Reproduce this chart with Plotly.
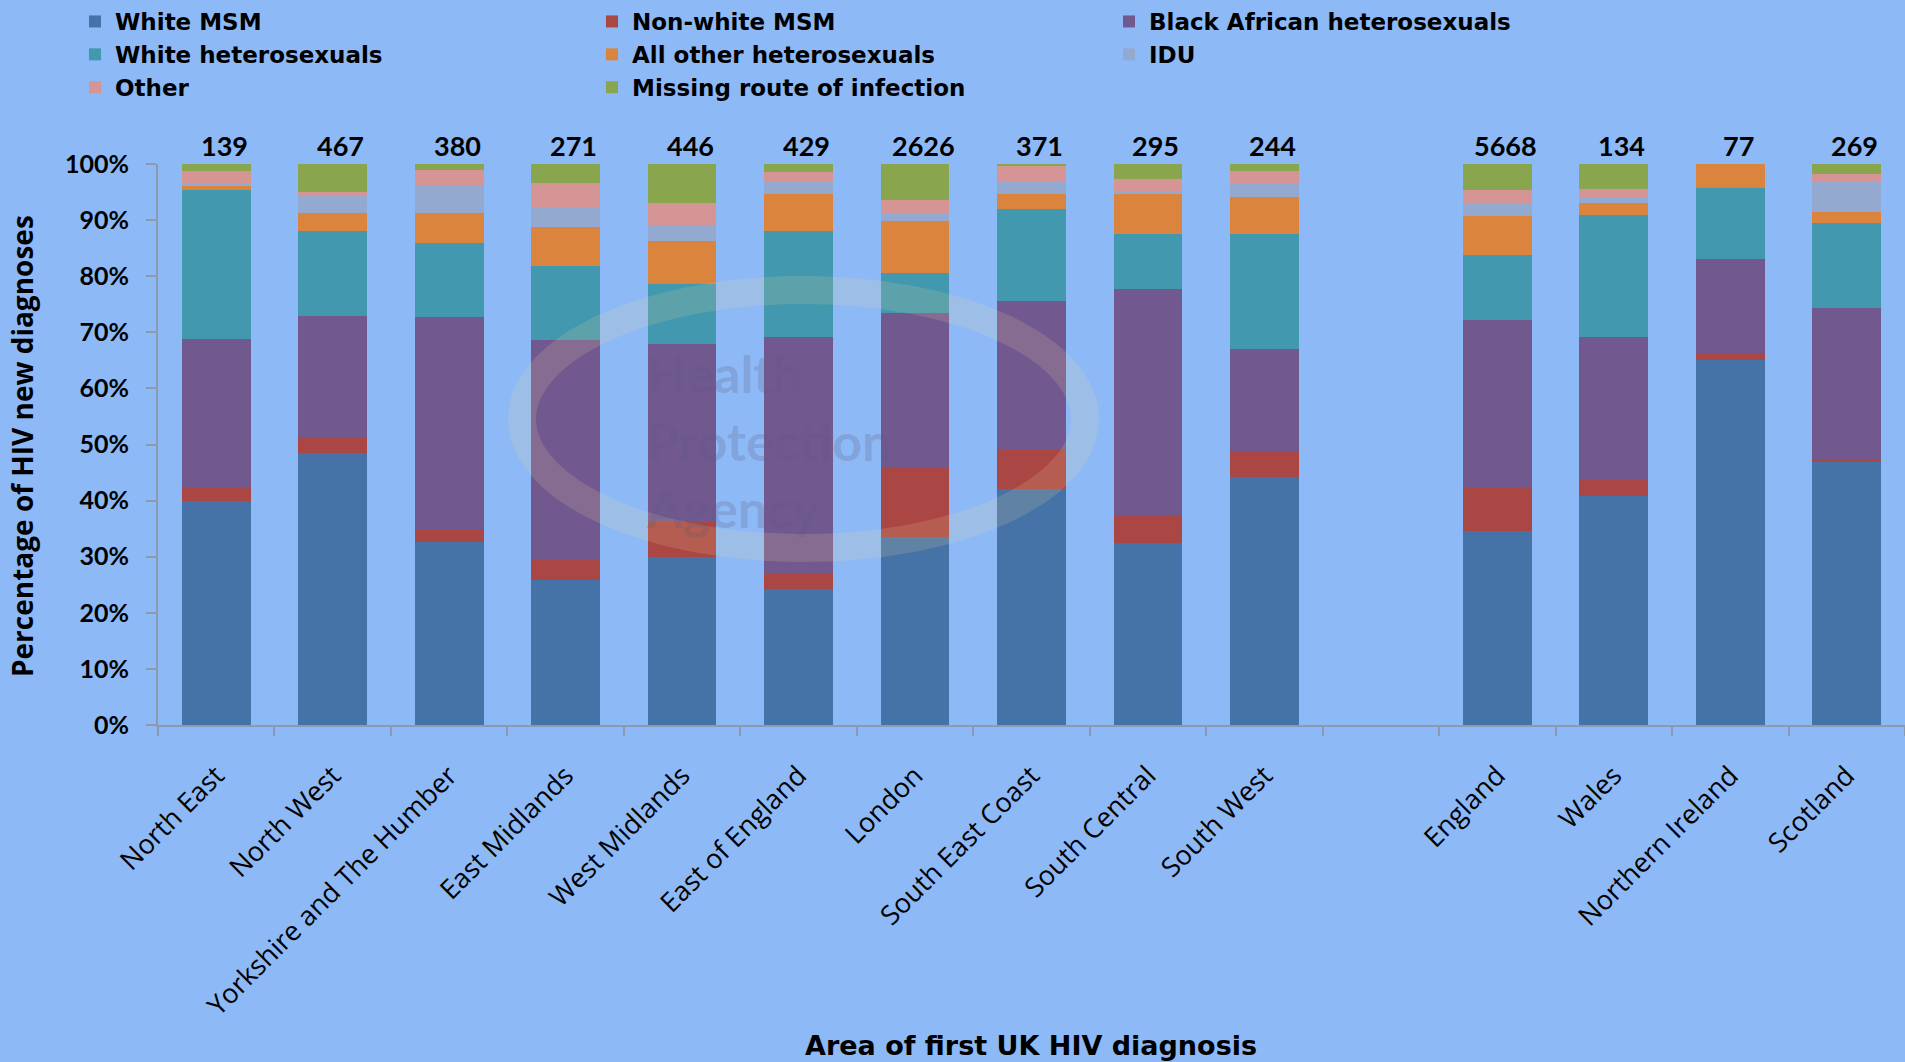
import plotly.graph_objects as go

categories = ["North East", "North West", "Yorkshire and The Humber", "East Midlands",
              "West Midlands", "East of England", "London", "South East Coast",
              "South Central", "South West", " ", "England", "Wales",
              "Northern Ireland", "Scotland"]
totals = [139, 467, 380, 271, 446, 429, 2626, 371, 295, 244, None, 5668, 134, 77, 269]

white_msm = [40.0, 48.4, 32.7, 25.9, 29.9, 24.2, 33.5, 42.1, 32.4, 44.2, None, 34.5, 40.8, 65.0, 46.8]
nonwhite_msm = [2.5, 2.8, 2.1, 3.6, 6.2, 2.7, 12.5, 6.9, 4.8, 4.6, None, 8.0, 2.9, 1.4, 0.4]
black_african_het = [26.3, 21.7, 37.9, 39.1, 31.9, 42.3, 27.5, 26.5, 40.6, 18.3, None, 29.7, 25.5, 16.7, 27.1]
white_het = [26.6, 15.2, 13.2, 13.2, 10.6, 18.9, 7.1, 16.4, 9.8, 20.5, None, 11.6, 21.7, 12.7, 15.2]
other_het = [0.8, 3.1, 5.4, 7.0, 7.7, 6.5, 9.3, 2.7, 7.0, 6.5, None, 6.9, 2.2, 4.2, 2.0]
idu = [0.3, 3.2, 5.0, 3.5, 2.7, 2.4, 1.4, 2.4, 0.5, 2.6, None, 2.4, 1.0, 0.0, 5.5]
other = [2.2, 0.6, 2.7, 4.4, 4.0, 1.6, 2.3, 2.6, 2.3, 2.0, None, 2.2, 1.4, 0.0, 1.3]
missing = [1.3, 5.0, 1.0, 3.3, 7.0, 1.4, 6.4, 0.4, 2.6, 1.3, None, 4.7, 4.5, 0.0, 1.7]

series_names = ["White MSM", "Non-white MSM", "Black African heterosexuals",
                "White heterosexuals", "All other heterosexuals", "IDU", "Other",
                "Missing route of infection"]
series_values = [white_msm, nonwhite_msm, black_african_het, white_het, other_het,
                 idu, other, missing]
series_colors = ["#4572A7", "#AA4643", "#71588F", "#4198AF", "#DB843D", "#93A9CF",
                 "#D49594", "#89A54E"]

BG = "#8DB9F7"
AXIS = "#8C9AB0"
W, H = 1905, 1062
L, R, T, B = 158, 0, 164, 337
pw, ph = W - L - R, H - T - B

fig = go.Figure()
for name, vals, col in zip(series_names, series_values, series_colors):
    fig.add_trace(go.Bar(x=categories, y=vals, name=name,
                         marker=dict(color=col, line=dict(width=0))))

# totals above bars
for c, n in zip(categories, totals):
    if n is None:
        continue
    fig.add_annotation(x=c, y=100, xref="x", yref="y", text=f"<b>{n}</b>",
                       showarrow=False, yanchor="bottom", yshift=0, xshift=8,
                       font=dict(family="Lato", size=27, color="black"))

# axis titles
fig.add_annotation(x=(22 - L) / pw, y=(T + ph - 446) / ph, xref="paper", yref="paper",
                   text="<b>Percentage of HIV new diagnoses</b>", textangle=-90,
                   showarrow=False, xanchor="center", yanchor="middle",
                   font=dict(family="Open Sans", size=28, color="black"))
fig.add_annotation(x=(1031 - L) / pw, y=(T + ph - 1045) / ph, xref="paper", yref="paper",
                   text="<b>Area of first UK HIV diagnosis</b>",
                   showarrow=False, xanchor="center", yanchor="middle",
                   font=dict(family="DejaVu Sans", size=27, color="black"))

# faint watermark
fig.add_shape(type="circle", xref="paper", yref="paper",
              x0=(522 - L) / pw, x1=(1085 - L) / pw,
              y0=(T + ph - 548) / ph, y1=(T + ph - 290) / ph,
              line=dict(color="rgba(240,220,150,0.16)", width=28), layer="above")
fig.add_annotation(x=(644 - L) / pw, y=(T + ph - 440) / ph, xref="paper", yref="paper",
                   text="<b>Health<br>Protection<br>Agency</b>", align="left",
                   showarrow=False, xanchor="left", yanchor="middle",
                   font=dict(family="Lato", size=52, color="rgba(90,90,125,0.22)"))

fig.update_layout(
    width=W, height=H,
    paper_bgcolor=BG, plot_bgcolor=BG,
    barmode="stack", bargap=0.41,
    margin=dict(l=L, r=R, t=T, b=B, pad=0),
    font=dict(family="Lato", color="black"),
    legend=dict(orientation="h", xref="container", yref="container",
                x=75 / W, y=1.0, xanchor="left", yanchor="top",
                entrywidth=472, entrywidthmode="pixels", traceorder="normal",
                font=dict(family="DejaVu Sans", size=23, color="black", weight="bold"),
                bgcolor="rgba(0,0,0,0)", tracegroupgap=0),
    xaxis=dict(type="category", categoryorder="array", categoryarray=categories,
               showline=True, linecolor=AXIS, linewidth=2,
               ticks="outside", tickson="boundaries", ticklen=9, tickwidth=2,
               tickcolor=AXIS, tickangle=-45, ticklabelstandoff=22,
               tickfont=dict(family="Open Sans", size=27, color="black"),
               showgrid=False, zeroline=False, range=[-0.5, 14.5]),
    yaxis=dict(range=[0, 100], dtick=10, ticksuffix="%", showline=True,
               linecolor=AXIS, linewidth=2, ticks="outside", ticklen=10,
               tickwidth=2, tickcolor=AXIS, showgrid=False, zeroline=False,
               ticklabelstandoff=12,
               tickfont=dict(family="Lato", size=25, color="black", weight="bold")),
)

fig.write_html("out.html", config={"displayModeBar": False},
               post_script="document.body.style.margin='0px';")
